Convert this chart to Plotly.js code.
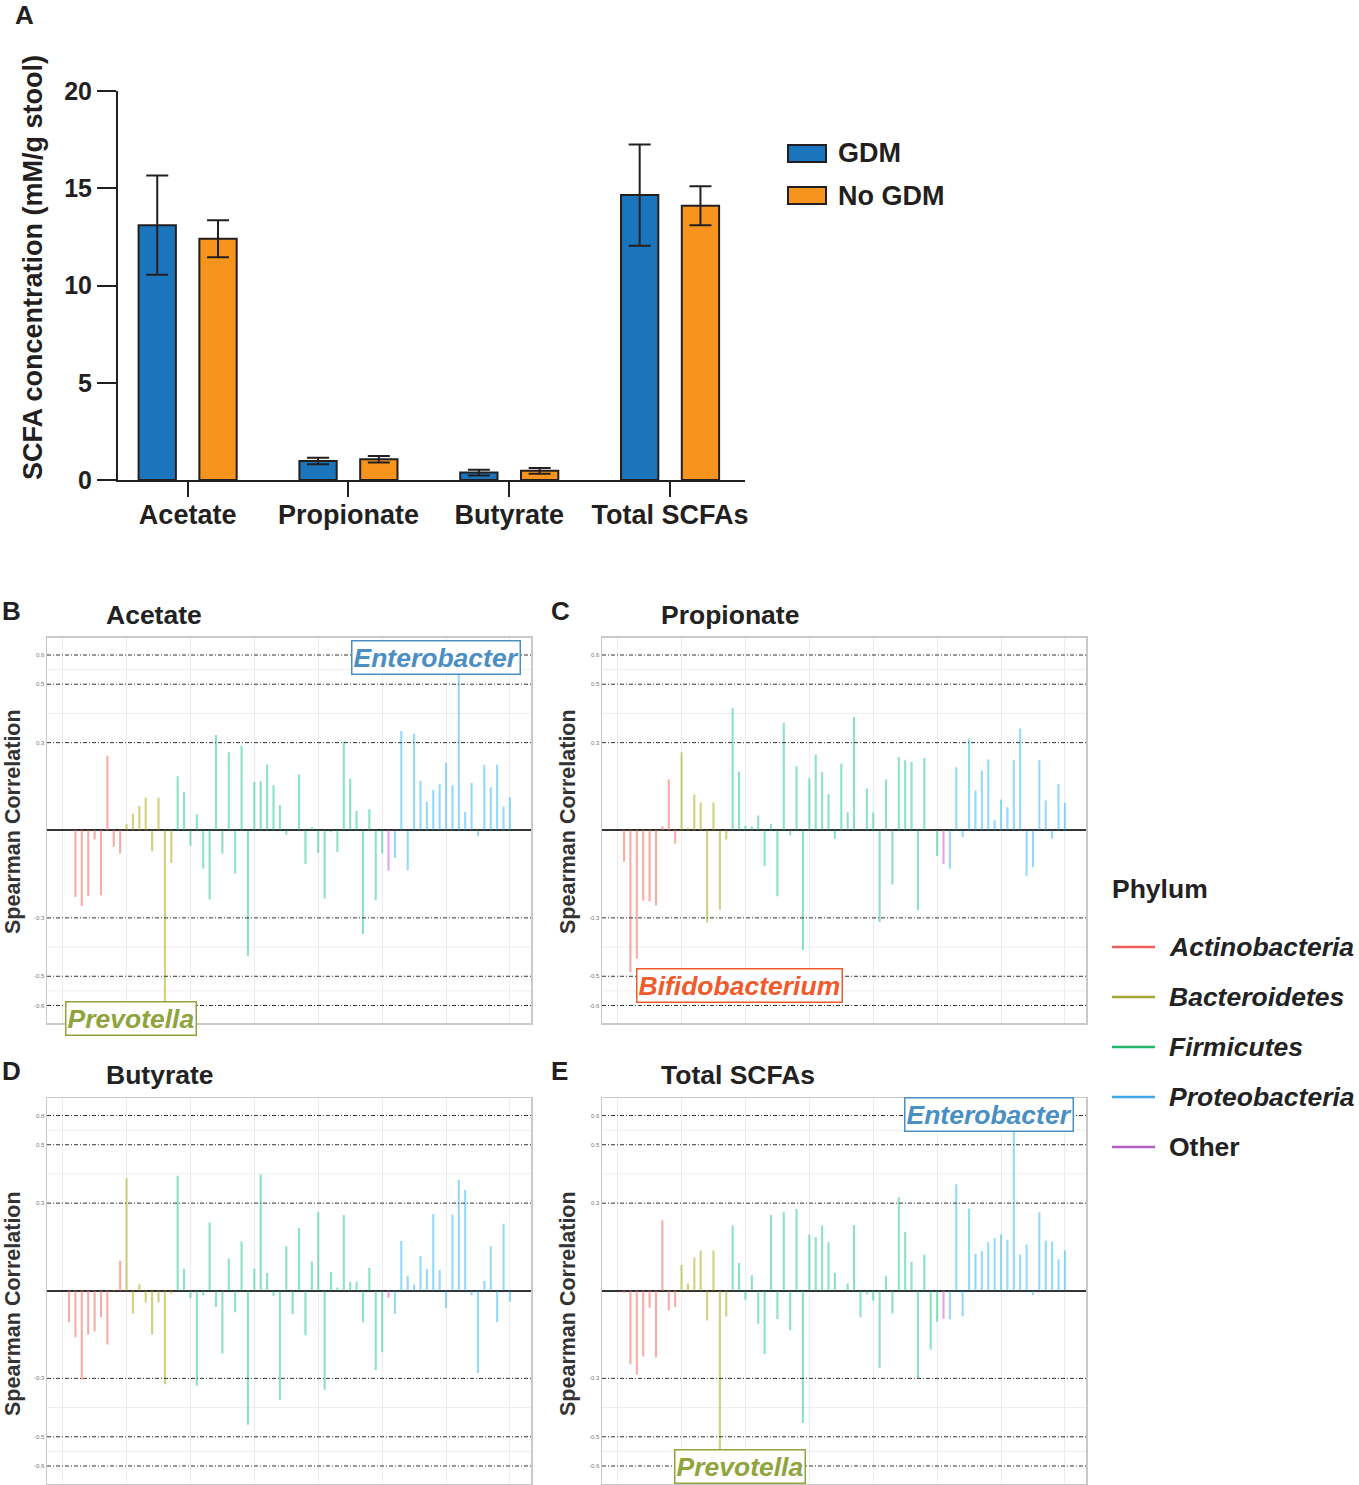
<!DOCTYPE html>
<html><head><meta charset="utf-8">
<script src="https://cdn.plot.ly/plotly-3.0.1.min.js"></script>
<style>html,body{margin:0;padding:0;background:#fff}#chart{width:1359px;height:1485px}</style>
</head><body><div id="chart"></div>
<script>
const W = 1359, H = 1485;
const FONT = '"Liberation Sans", Arial, Helvetica, sans-serif';
const INK = '#231F20';

// ---------- Panel A data ----------
const scfaCategories = ['Acetate', 'Propionate', 'Butyrate', 'Total SCFAs'];
const gdmMean   = [13.1, 0.98, 0.38, 14.65];
const gdmErr    = [2.55, 0.17, 0.15, 2.6];
const noGdmMean = [12.4, 1.07, 0.47, 14.1];
const noGdmErr  = [0.95, 0.17, 0.15, 1.0];

// ---------- Panels B-E data (Spearman correlation per genus) ----------
const phylumNames = ['Actinobacteria', 'Bacteroidetes', 'Firmicutes', 'Proteobacteria', 'Other'];
// phylum index of each genus (0=Actinobacteria,1=Bacteroidetes,2=Firmicutes,3=Proteobacteria,4=Other)
const genusPhylum = [
  0,0,0,0,0,0,0,0,0,
  1,1,1,1,1,1,1,1,
  2,2,2,2,2,2,2,2,2,2,2,2,2,2,2,2,2,2,2,2,2,2,2,2,2,2,2,2,2,2,2,2,2,
  4,
  3,3,3,3,3,3,3,3,3,3,3,3,3,3,3,3,3,3,3
];
const corrAcetate = [
  0, -0.228, -0.259, -0.225, -0.031, -0.223, 0.255, -0.057, -0.080,
  0.021, 0.056, 0.083, 0.112, -0.072, 0.112, -0.595, -0.112,
  0.185, 0.130, -0.054, 0.055, -0.131, -0.237, 0.326, -0.080, 0.267, -0.148, 0.289, -0.430, 0.166, 0.168, 0.225, 0.154, 0.086, -0.015,
  0, 0.191, -0.115, 0.009, -0.078, -0.234, -0.007, -0.074, 0.303, 0.177, 0.066, -0.355, 0.072, -0.240, -0.080,
  -0.138,
  -0.095, 0.340, -0.137, 0.330, 0.169, 0.097, 0.138, 0.158, 0.231, 0.154, 0.540, 0.062, 0.162, -0.019, 0.224, 0.147, 0.224, 0.081, 0.113
];
const corrPropionate = [
  -0.108, -0.486, -0.440, -0.241, -0.243, -0.257, 0.014, 0.174, -0.046,
  0.267, 0.008, 0.122, 0.095, -0.316, 0.095, -0.272, -0.032,
  0.418, 0.201, 0.016, 0.014, 0.050, -0.122, 0.021, -0.226, 0.368, -0.017, 0.219, -0.410, 0.178, 0.259, 0.200, 0.124, -0.029, 0.228,
  0.062, 0.388, 0, 0.143, 0.061, -0.314, 0.174, -0.186, 0.251, 0.240, 0.234, -0.274, 0.247, 0, -0.088,
  -0.115,
  -0.131, 0.216, -0.023, 0.314, 0.136, 0.205, 0.242, 0.034, 0.105, 0.079, 0.240, 0.348, -0.156, -0.126, 0.240, 0.102, -0.029, 0.158, 0.094
];
const corrButyrate = [
  -0.108, -0.159, -0.305, -0.150, -0.139, -0.090, -0.184, 0.003, 0.103,
  0.385, -0.078, 0.022, -0.040, -0.150, -0.040, -0.320, -0.010,
  0.394, 0.075, -0.026, -0.325, -0.015, 0.234, -0.056, -0.215, 0.110, -0.074, 0.169, -0.459, 0.075, 0.398, 0.061, -0.017, -0.374, 0.152,
  -0.080, 0.215, -0.152, 0.099, 0.269, -0.339, 0.064, 0.011, 0.259, 0.031, 0.031, -0.108, 0.078, -0.271, -0.211,
  -0.024,
  -0.080, 0.170, 0.051, 0.021, 0.119, 0.075, 0.263, 0.071, -0.059, 0.260, 0.379, 0.346, -0.015, -0.282, 0.033, 0.152, -0.108, 0.229, -0.038
];
const corrTotal = [
  -0.008, -0.252, -0.287, -0.225, -0.058, -0.228, 0.241, -0.067, -0.056,
  0.088, 0.025, 0.114, 0.138, -0.102, 0.138, -0.548, -0.088,
  0.223, 0.095, -0.031, 0.053, -0.113, -0.217, 0.259, -0.097, 0.269, -0.135, 0.280, -0.453, 0.193, 0.184, 0.223, 0.166, 0.062, 0,
  0.025, 0.225, -0.092, -0.013, -0.033, -0.264, 0.050, -0.078, 0.320, 0.201, 0.099, -0.300, 0.123, -0.202, -0.106,
  -0.096,
  -0.098, 0.365, -0.087, 0.282, 0.127, 0.135, 0.166, 0.180, 0.193, 0.175, 0.555, 0.123, 0.158, -0.015, 0.269, 0.171, 0.169, 0.108, 0.138
];
const refLines = [-0.6, -0.5, -0.3, 0.3, 0.5, 0.6];
const refLabels = ['-0.6', '-0.5', '-0.3', '0.3', '0.5', '0.6'];
const minorLines = [-0.55, -0.4, 0.4, 0.55];

// ---------- styling ----------
const barColors = ['rgba(248,118,109,0.62)', 'rgba(163,165,0,0.5)', 'rgba(0,191,125,0.45)', 'rgba(0,165,240,0.42)', 'rgba(210,100,220,0.6)'];
const legendColors = ['#F0605A', '#A3A536', '#22B366', '#3FA8E6', '#B35FC2'];

const px = x => x / W;
const py = y => 1 - y / H;

// panel boxes in pixels [left, right, top, bottom]
const panels = [
  {key: '2', title: 'Acetate',     letter: 'B', data: corrAcetate,    box: [47, 531, 637.5, 1023],    lx: 0,   ty: 822},
  {key: '3', title: 'Propionate',  letter: 'C', data: corrPropionate, box: [602, 1086, 637.5, 1023],  lx: 549, ty: 822},
  {key: '4', title: 'Butyrate',    letter: 'D', data: corrButyrate,   box: [47, 531, 1098, 1483.5],   lx: 0,   ty: 1304},
  {key: '5', title: 'Total SCFAs', letter: 'E', data: corrTotal,      box: [602, 1086, 1098, 1483.5], lx: 549, ty: 1304}
];

const traces = [];
const shapes = [];
const annotations = [];
const layout = {
  width: W, height: H,
  margin: {l: 0, r: 0, t: 0, b: 0},
  paper_bgcolor: '#fff', plot_bgcolor: 'rgba(0,0,0,0)',
  showlegend: false,
  barmode: 'overlay',
  font: {family: FONT, color: INK},
  shapes: shapes, annotations: annotations
};

// ---------- Panel A ----------
traces.push({
  type: 'bar', x: scfaCategories.map((c, i) => i), y: gdmMean, name: 'GDM',
  xaxis: 'x', yaxis: 'y', width: 0.232, offset: -0.305,
  marker: {color: '#1B75BC', line: {color: INK, width: 2}},
  error_y: {type: 'data', array: gdmErr, visible: true, color: INK, thickness: 2, width: 11}
});
traces.push({
  type: 'bar', x: scfaCategories.map((c, i) => i), y: noGdmMean, name: 'No GDM',
  xaxis: 'x', yaxis: 'y', width: 0.232, offset: 0.073,
  marker: {color: '#F7941D', line: {color: INK, width: 2}},
  error_y: {type: 'data', array: noGdmErr, visible: true, color: INK, thickness: 2, width: 11}
});
layout.xaxis = {
  domain: [px(118), px(745)], range: [-0.433, 3.466], anchor: 'y',
  tickmode: 'array', tickvals: scfaCategories.map((c, i) => i), ticktext: scfaCategories,
  showline: true, linecolor: INK, linewidth: 2, ticks: 'outside', ticklen: 15, tickwidth: 2, tickcolor: INK,
  showgrid: false, zeroline: false, fixedrange: true, ticklabelstandoff: -5,
  tickfont: {family: FONT, size: 27, color: INK, weight: 'bold'}
};
layout.yaxis = {
  domain: [py(480), py(91)], range: [0, 20], anchor: 'x',
  tickmode: 'linear', tick0: 0, dtick: 5,
  showline: true, linecolor: INK, linewidth: 2, ticks: 'outside', ticklen: 19, tickwidth: 2, tickcolor: INK,
  showgrid: false, zeroline: false, fixedrange: true,
  tickfont: {family: FONT, size: 25, color: INK, weight: 'bold'}
};
annotations.push({
  xref: 'paper', yref: 'paper', x: px(33), y: py(268), xanchor: 'center', yanchor: 'middle',
  text: '<b>SCFA concentration (mM/g stool)</b>', textangle: -90, showarrow: false,
  font: {family: FONT, size: 27, color: INK}
});
// legend for panel A
[['GDM', '#1B75BC', 145, 162], ['No GDM', '#F7941D', 187, 204]].forEach(([name, col, y0, y1]) => {
  shapes.push({type: 'rect', xref: 'paper', yref: 'paper', x0: px(788), x1: px(826), y0: py(y1), y1: py(y0),
    fillcolor: col, line: {color: INK, width: 2}});
  annotations.push({xref: 'paper', yref: 'paper', x: px(836), y: py((y0 + y1) / 2), xanchor: 'left', yanchor: 'middle',
    text: '<b>' + name + '</b>', showarrow: false, font: {family: FONT, size: 27, color: INK}});
});

// ---------- Panels B-E ----------
const xRange = [-2.45, 73.3];
panels.forEach(p => {
  const [l, r, t, b] = p.box;
  const xa = 'x' + p.key, ya = 'y' + p.key;
  phylumNames.forEach((ph, k) => {
    const xs = [], ys = [];
    p.data.forEach((v, i) => { if (genusPhylum[i] === k) { xs.push(i + 1); ys.push(v); } });
    traces.push({type: 'bar', x: xs, y: ys, xaxis: xa, yaxis: ya, width: 0.33, name: ph,
      marker: {color: barColors[k], line: {width: 0}}});
  });
  layout['xaxis' + p.key] = {
    domain: [px(l), px(r)], range: xRange, anchor: ya,
    tickmode: 'linear', tick0: 0, dtick: 10, showticklabels: false, ticks: '',
    showgrid: true, gridcolor: '#EDEDED', gridwidth: 1,
    showline: true, mirror: true, linecolor: '#C9C9C9', linewidth: 1.5,
    zeroline: false, fixedrange: true
  };
  layout['yaxis' + p.key] = {
    domain: [py(b), py(t)], range: [-0.66, 0.66], anchor: xa,
    tickmode: 'array', tickvals: refLines, ticktext: refLabels, ticks: '',
    tickfont: {family: FONT, size: 6, color: '#777'},
    showgrid: false, showline: true, mirror: true, linecolor: '#C9C9C9', linewidth: 1.5,
    zeroline: true, zerolinecolor: '#333', zerolinewidth: 1.6, fixedrange: true
  };
  minorLines.forEach(v => shapes.push({type: 'line', xref: 'paper', yref: ya, x0: px(l), x1: px(r), y0: v, y1: v,
    line: {color: '#EDEDED', width: 1}, layer: 'below'}));
  refLines.forEach(v => shapes.push({type: 'line', xref: 'paper', yref: ya, x0: px(l), x1: px(r), y0: v, y1: v,
    line: {color: '#333', width: 1, dash: '4px,2px,1px,2px'}, layer: 'above'}));
  // panel title
  annotations.push({xref: 'paper', yref: 'paper', x: px(l + 57), y: py(t - 23), xanchor: 'left', yanchor: 'middle',
    text: '<b>' + p.title + '</b>', showarrow: false, font: {family: FONT, size: 26.5, color: '#222'}});
  // panel letter
  annotations.push({xref: 'paper', yref: 'paper', x: px(p.lx), y: py(t - 27),
    xanchor: 'left', yanchor: 'middle', text: '<b>' + p.letter + '</b>', showarrow: false,
    font: {family: FONT, size: 26, color: INK}});
  // y title
  annotations.push({xref: 'paper', yref: 'paper', x: px(l - 34), y: py(p.ty), xanchor: 'center', yanchor: 'middle',
    text: '<b>Spearman Correlation</b>', textangle: -90, showarrow: false, font: {family: FONT, size: 21.5, color: '#333'}});
});

// panel A letter
annotations.push({xref: 'paper', yref: 'paper', x: px(13), y: py(15), xanchor: 'left', yanchor: 'middle',
  text: '<b>A</b>', showarrow: false, font: {family: FONT, size: 26, color: INK}});

// genus call-outs
const callouts = [
  {text: 'Enterobacter',    cx: 435.5, cy: 657,    color: '#4A8EC2'},
  {text: 'Prevotella',      cx: 131,   cy: 1018.5, color: '#8FA43C'},
  {text: 'Bifidobacterium', cx: 739.5, cy: 985.5,  color: '#F05A2C'},
  {text: 'Enterobacter',    cx: 989,   cy: 1114,   color: '#4A8EC2'},
  {text: 'Prevotella',      cx: 739.5, cy: 1466,   color: '#8FA43C'}
];
callouts.forEach(c => annotations.push({
  xref: 'paper', yref: 'paper', x: px(c.cx), y: py(c.cy), xanchor: 'center', yanchor: 'middle',
  text: '<b><i>' + c.text + '</i></b>', showarrow: false, bgcolor: '#fff',
  bordercolor: c.color, borderwidth: 1.5, borderpad: 1,
  font: {family: FONT, size: 26.5, color: c.color}
}));

// Phylum legend
annotations.push({xref: 'paper', yref: 'paper', x: px(1110), y: py(889), xanchor: 'left', yanchor: 'middle',
  text: '<b>Phylum</b>', showarrow: false, font: {family: FONT, size: 26.5, color: '#222'}});
phylumNames.forEach((ph, k) => {
  const yy = 947 + 50 * k;
  shapes.push({type: 'line', xref: 'paper', yref: 'paper', x0: px(1112), x1: px(1155), y0: py(yy), y1: py(yy),
    line: {color: legendColors[k], width: 2.5}});
  annotations.push({xref: 'paper', yref: 'paper', x: px(1167), y: py(yy), xanchor: 'left', yanchor: 'middle',
    text: ph === 'Other' ? '<b>' + ph + '</b>' : '<b><i>' + ph + '</i></b>', showarrow: false,
    font: {family: FONT, size: 26.5, color: '#222'}});
});

Plotly.newPlot('chart', traces, layout, {staticPlot: true, displayModeBar: false});
</script></body></html>
